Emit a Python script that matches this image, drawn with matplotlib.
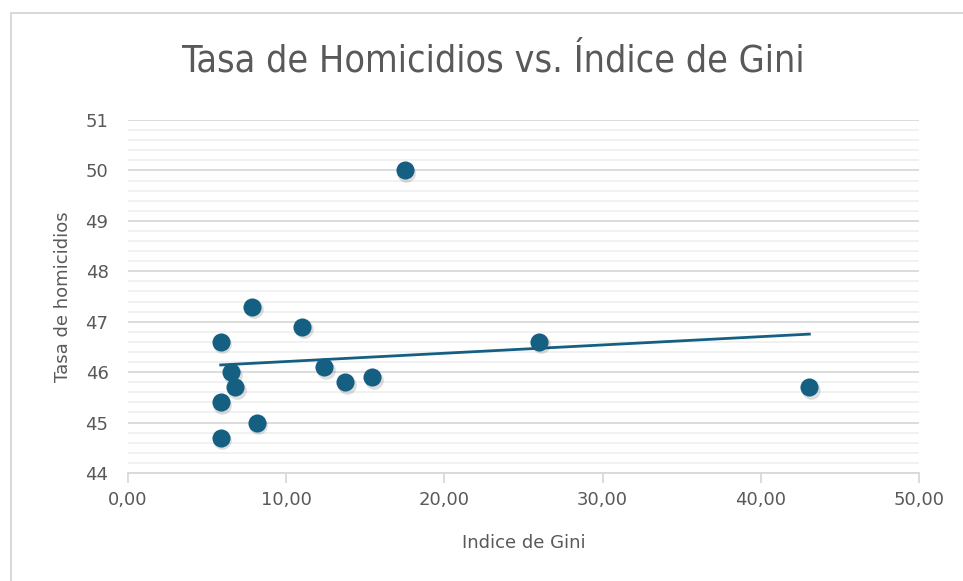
import numpy as np
import matplotlib.pyplot as plt
from matplotlib.patches import Rectangle
from matplotlib.ticker import MultipleLocator, FuncFormatter

plt.rcParams['font.family'] = ['DejaVu Sans']

# Data
gini = [17.5, 7.85, 11.0, 5.86, 6.51, 6.76, 5.86, 8.13, 5.86, 12.41, 13.74, 15.42, 25.98, 43.07]
homicidios = [50.0, 47.3, 46.9, 46.6, 46.0, 45.7, 45.4, 45.0, 44.7, 46.1, 45.8, 45.9, 46.6, 45.7]

title = 'Tasa de Homicidios vs. Índice de Gini'
xlabel = 'Indice de Gini'
ylabel = 'Tasa de homicidios'

color = '#156082'
text_color = '#595959'

W, H = 963, 581
fig = plt.figure(figsize=(W / 100, H / 100), dpi=100)

# chart border
fig.patches.append(Rectangle((11 / W, -0.1), 1.2, 1 - 13 / H + 0.1, transform=fig.transFigure,
                             fill=False, edgecolor='#d9d9d9', linewidth=1.5))

ax = fig.add_axes([128 / W, 1 - 473 / H, (919 - 128) / W, (473 - 120) / H])

ax.set_xlim(0, 50)
ax.set_ylim(44, 51)
ax.xaxis.set_major_locator(MultipleLocator(10))
ax.yaxis.set_major_locator(MultipleLocator(1))
ax.yaxis.set_minor_locator(MultipleLocator(0.2))
ax.xaxis.set_major_formatter(FuncFormatter(lambda v, p: f'{v:.2f}'.replace('.', ',')))
ax.yaxis.set_major_formatter(FuncFormatter(lambda v, p: f'{v:.0f}'))

ax.grid(True, axis='y', which='major', color='#d9d9d9', linewidth=1.3)
ax.grid(True, axis='y', which='minor', color='#f0f0f0', linewidth=1.3)
ax.set_axisbelow(True)

for s in ['top', 'right', 'left']:
    ax.spines[s].set_visible(False)
ax.spines['bottom'].set_color('#d9d9d9')
ax.spines['bottom'].set_linewidth(1.3)

ax.tick_params(axis='x', colors='#d9d9d9', labelcolor=text_color, labelsize=13,
               length=7, width=1.3, pad=6)
ax.tick_params(axis='y', which='both', length=0, labelcolor=text_color, labelsize=13, pad=14)

# trendline
m, b = np.polyfit(gini, homicidios, 1)
xs = np.array([min(gini), max(gini)])
ax.plot(xs, m * xs + b, color=color, linewidth=2, zorder=3)

# shadow + markers
ax.scatter(np.array(gini) + 0.1, np.array(homicidios) - 0.05, s=180, color='#000000',
           alpha=0.13, linewidths=0, zorder=3.5)
ax.scatter(gini, homicidios, s=170, color=color, linewidths=0, zorder=4)

fig.text(493 / W, 1 - 62 / H, title, ha='center', va='center',
         fontsize=27, color=text_color, fontstretch='condensed')
ax.set_xlabel(xlabel, fontsize=13, color=text_color, labelpad=18)
ax.set_ylabel(ylabel, fontsize=13, color=text_color, labelpad=10)

fig.savefig('out.png', dpi=100)
